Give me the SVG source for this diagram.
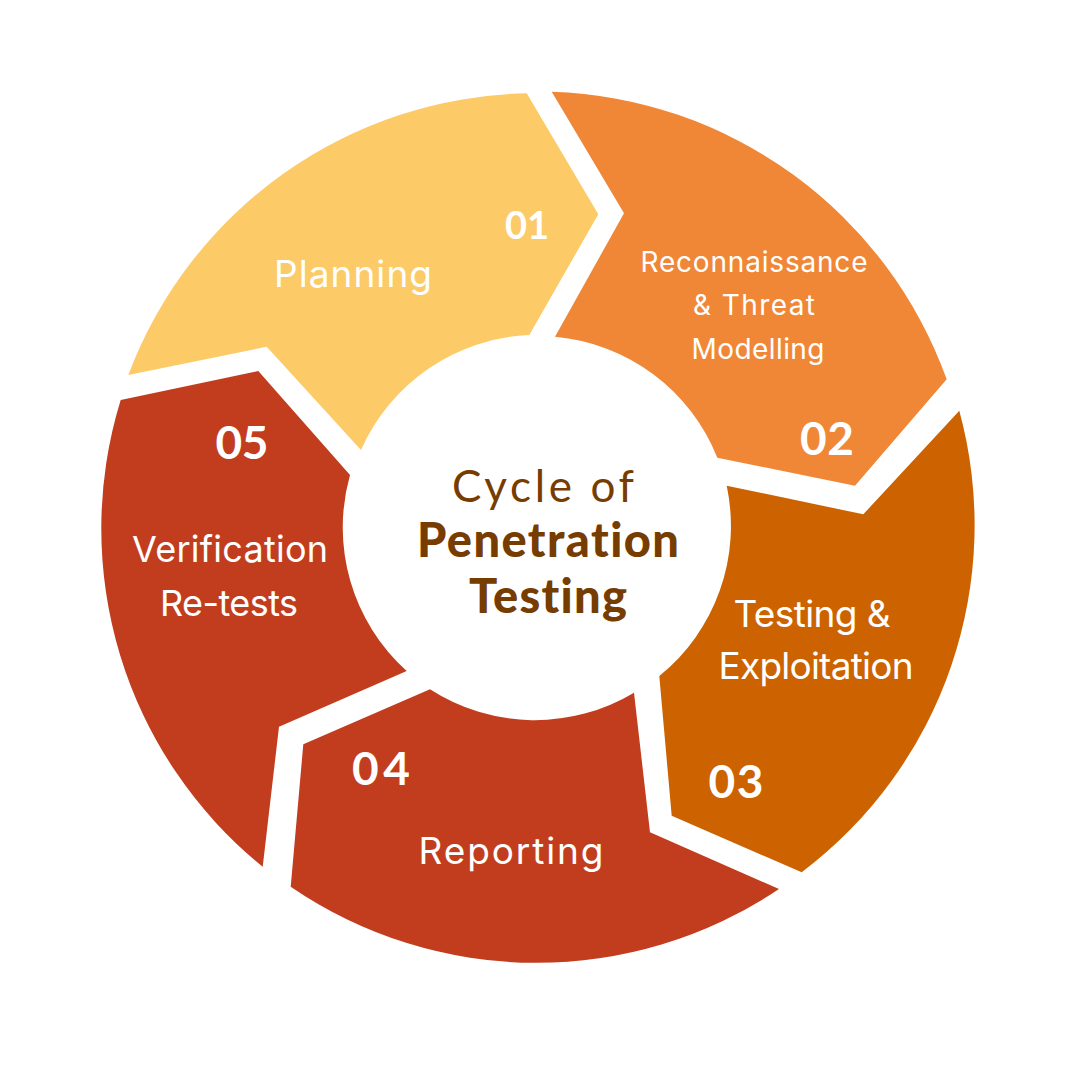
<svg xmlns="http://www.w3.org/2000/svg" width="1080" height="1080" viewBox="0 0 1080 1080">
<style>
.lbl{font-family:Inter,Lato,"Liberation Sans",sans-serif;fill:#ffffff;text-anchor:middle}
.num{font-family:Lato,"Liberation Sans",sans-serif;font-weight:700;font-size:46px}
.txt{font-size:37px}
.sm{font-size:28px}
.title{font-family:Lato,"Liberation Sans",sans-serif;fill:#773C00;text-anchor:middle;font-variant-ligatures:none}
.bold{font-size:47px;font-weight:900}
</style>
<rect width="1080" height="1080" fill="#ffffff"/>
<g id="connectors"></g>
<g id="step1">
<path fill="#FDCA68" d="M128.3,375 A435,435 0 0 1 526.7,93.3 L598.3,214.3 L529.3,335 A193,193 0 0 0 361,450 L266.7,346.7 Z"/>
<text class="lbl num" x="527" y="239" style="font-size:38px">01</text>
<text class="lbl" x="353" y="287" style="font-size:37px" textLength="158">Planning</text>
</g>
<g id="step2">
<path fill="#F08737" d="M551.7,91.7 A435,435 0 0 1 946.7,379.3 L855,485.7 L717.3,457.7 A193,193 0 0 0 555,336.7 L624,213.3 Z"/>
<text class="lbl sm" x="754" y="272" textLength="227">Reconnaissance</text>
<text class="lbl sm" x="754" y="315" textLength="122">&amp; Threat</text>
<text class="lbl sm" x="758" y="359" textLength="133">Modelling</text>
<text class="lbl num" x="827" y="455" textLength="54">02</text>
</g>
<g id="step3">
<path fill="#CC6300" d="M959.3,410.7 A435,435 0 0 1 801.7,872.3 L671.7,815.7 L659.3,676 A193,193 0 0 0 726.7,485.7 L863.3,514.3 Z"/>
<text class="lbl txt" x="812" y="627" textLength="157">Testing &amp;</text>
<text class="lbl txt" x="816" y="679" textLength="195">Exploitation</text>
<text class="lbl num" x="736" y="798" textLength="55">03</text>
</g>
<g id="step4">
<path fill="#C23D1E" d="M779,889 A435,435 0 0 1 290.7,886.7 L303.3,744.3 L430,689.3 A193,193 0 0 0 634,692.7 L650,832.3 Z"/>
<text class="lbl num" x="381" y="785" textLength="58">04</text>
<text class="lbl txt" x="511" y="864" textLength="185">Reporting</text>
</g>
<g id="step5">
<path fill="#C23D1E" d="M262.7,866.7 A435,435 0 0 1 120.7,400 L258.3,371 L350,475 A193,193 0 0 0 406.7,671 L279,726.7 Z"/>
<text class="lbl num" x="242" y="459" textLength="53">05</text>
<text class="lbl" x="230" y="562" style="font-size:36px" textLength="196">Verification</text>
<text class="lbl" x="229" y="616" style="font-size:36px" textLength="138">Re-tests</text>
</g>
<g id="center">
<text class="title" x="543" y="502" style="font-size:44px" textLength="182">Cycle of</text>
<text class="title bold" x="548" y="557" textLength="262">Penetration</text>
<text class="title bold" x="548" y="613" textLength="158">Testing</text>
</g>
</svg>
